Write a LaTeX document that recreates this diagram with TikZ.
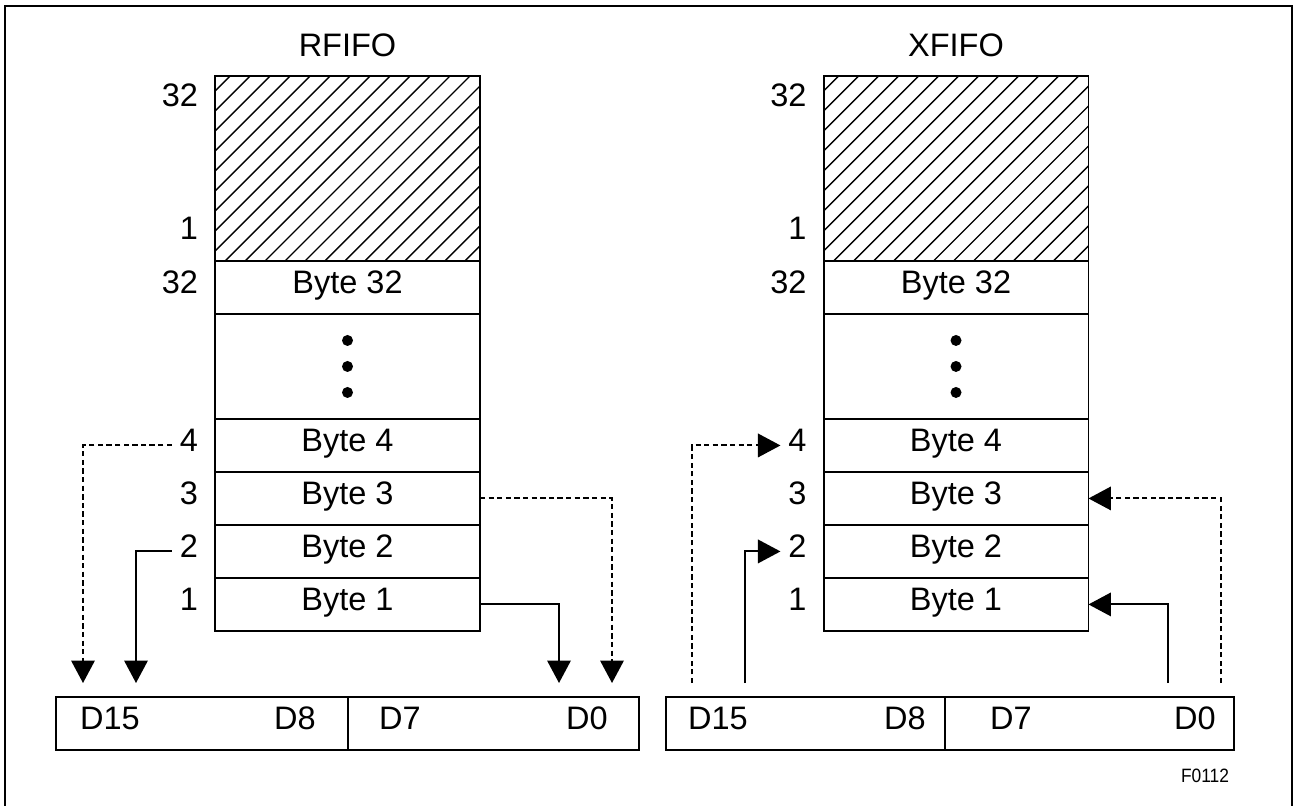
\documentclass[tikz,border=0pt]{standalone}
\usepackage{fontspec}
\setmainfont{Liberation Sans}
\usetikzlibrary{arrows.meta,positioning}
\tikzset{txt/.style={text height=1.38ex,text depth=0pt},
         cell/.style={txt,draw,minimum width=5.3cm,minimum height=1.06cm,inner sep=0pt,outer sep=0pt},
         reg/.style={draw,minimum height=1.06cm,inner sep=0pt,outer sep=0pt},
         idx/.style={txt,anchor=east,inner xsep=4pt,inner ysep=0pt},
         bit/.style={txt,inner sep=0pt},
         dot/.style={circle,fill=black,minimum size=0.22cm,inner sep=0pt},
         link/.style={-{Triangle[length=0.45cm,width=0.47cm]}},
         dlink/.style={link,dash pattern=on 3pt off 1.9pt}
}

\begin{document}
\begin{tikzpicture}[x=0.02cm,y=-0.02cm,line width=1.1pt,
font=\fontsize{18.5}{22}\selectfont]
\useasboundingbox (0,0) rectangle (1297,805);
\draw (5,812) -- (5,6) -- (1292,6) -- (1292,812);

% the two fifos
\foreach \p/\cx/\name in {r/347.5/RFIFO, x/956/XFIFO}{
    \node[bit] (\p title) at (\cx,50) {\name};
    \node[cell,minimum height=3.7cm] (\p free) at (\cx,168.5) {};
    \node[cell,below=0pt of \p free] (\p32) {Byte 32};
    \node[cell,minimum height=2.1cm,below=0pt of \p32] (\p dots) {};
    \node[cell,below=0pt of \p dots] (\p4) {Byte 4};
    \node[cell,below=0pt of \p4] (\p3) {Byte 3};
    \node[cell,below=0pt of \p3] (\p2) {Byte 2};
    \node[cell,below=0pt of \p2] (\p1) {Byte 1};
    \begin{scope}
        \clip (\p free.south west) rectangle (\p free.north east);
        \foreach \k in {0,...,23}
            \draw[line width=0.8pt] ([xshift=\k*0.4cm-3.8cm]\p free.south west) -- ++(185,-185);
    \end{scope}
    \foreach \d/\n in {-26/a,0/b,26/c}
        \node[dot] (\p dot\n) at ([yshift=\d*0.02cm]\p dots.center) {};
    \node[idx] (\p ltop) at ([shift={(-9,24)}]\p free.north west) {32};
    \node[idx] (\p lbot) at ([shift={(-9,-28)}]\p free.south west) {1};
    \foreach \i in {32,4,3,2,1}
        \node[idx] (\p l\i) at ([xshift=-0.18cm]\p\i.west) {\i};
}

% data registers
\node[reg,minimum width=5.84cm] (rhi) at (202,723.5) {};
\node[reg,minimum width=5.82cm,right=0pt of rhi] (rlo) {};
\node[reg,minimum width=5.58cm] (xhi) at (805.5,723.5) {};
\node[reg,minimum width=5.78cm,right=0pt of xhi] (xlo) {};
\node[bit] (rd15) at (110,723) {D15};
\node[bit] (rd8) at (295,723) {D8};
\node[bit] (rd7) at (400,723) {D7};
\node[bit] (rd0) at (587,723) {D0};
\node[bit] (xd15) at (718,723) {D15};
\node[bit] (xd8) at (905,723) {D8};
\node[bit] (xd7) at (1011,723) {D7};
\node[bit] (xd0) at (1195,723) {D0};

% read side
\coordinate (rout4) at (83,683);
\coordinate (rout2) at (136,683);
\coordinate (rout1) at (559,683);
\coordinate (rout3) at (612,683);
\draw[dlink] (rl4.west) -| (rout4);
\draw[link] (rl2.west) -| (rout2);
\draw[link] (r1.east) -| (rout1);
\draw[dlink] (r3.east) -| (rout3);

% write side
\coordinate (xin4) at (692,683);
\coordinate (xin2) at (745,683);
\coordinate (xin1) at (1168,683);
\coordinate (xin3) at (1221,683);
\draw[dlink] (xin4) |- (xl4.west);
\draw[link] (xin2) |- (xl2.west);
\draw[link] (xin1) |- (x1.east);
\draw[dlink] (xin3) |- (x3.east);

\node (fig) at (1205,776) {\fontsize{11}{13}\selectfont\scalebox{0.9}[1]{F0112}};
\end{tikzpicture}
\end{document}
